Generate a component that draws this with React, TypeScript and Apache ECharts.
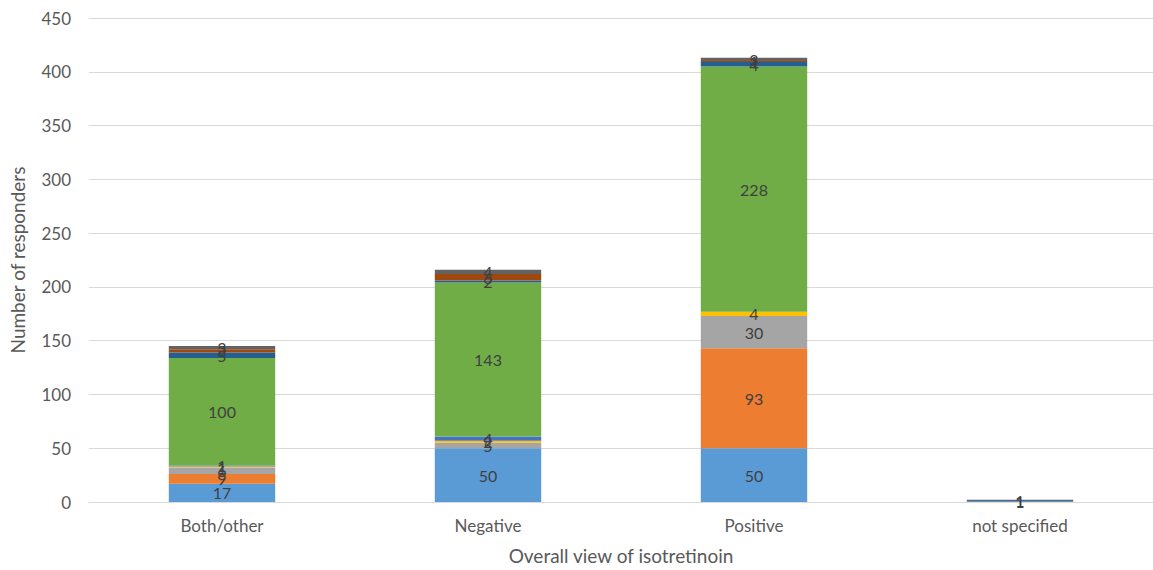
import React, { useEffect, useRef } from "react";
import * as echarts from "echarts";

const categories = ["Both/other", "Negative", "Positive", "not specified"];
const seriesNames = ["Series 1", "Series 2", "Series 3", "Series 4", "Series 5", "Series 6", "Series 7", "Series 8", "Series 9"];
const s1 = [17, 50, 50, 1];
const s2 = [9, 0, 93, 0];
const s3 = [6, 5, 30, 0];
const s4 = [1, 2, 4, 0];
const s5 = [1, 4, 0, 0];
const s6 = [100, 143, 228, 0];
const s7 = [5, 2, 4, 0];
const s8 = [3, 6, 1, 0];
const s9 = [3, 4, 3, 1];
const seriesValues = [s1, s2, s3, s4, s5, s6, s7, s8, s9];
const colors = ["#5B9BD5", "#ED7D31", "#A5A5A5", "#FFC000", "#4472C4", "#70AD47", "#255E91", "#9E480E", "#636363"];
const yTicks = { min: 0, max: 450, interval: 50 };

const FONT = "Lato";

export default function App() {
  const ref = useRef<HTMLDivElement>(null);
  useEffect(() => {
    document.body.style.margin = "0";
    document.body.style.overflow = "hidden";
    const chart = echarts.init(ref.current!, null, { renderer: "svg" });
    chart.setOption({
      animation: false,
      backgroundColor: "#ffffff",
      textStyle: { fontFamily: FONT },
      grid: { left: 81, right: -4, top: 18, bottom: 67 },
      xAxis: {
        type: "category",
        data: categories,
        name: "Overall view of isotretinoin",
        nameLocation: "middle",
        nameGap: 44,
        nameTextStyle: { fontFamily: FONT, fontSize: 19, color: "#595959" },
        axisLine: { lineStyle: { color: "#D9D9D9", width: 1 } },
        axisTick: { show: false },
        axisLabel: { fontFamily: FONT, fontSize: 17, color: "#595959", margin: 15 },
      },
      yAxis: {
        type: "value",
        min: yTicks.min,
        max: yTicks.max,
        interval: yTicks.interval,
        name: "Number of responders",
        nameLocation: "middle",
        nameGap: 62,
        nameRotate: 90,
        nameTextStyle: { fontFamily: FONT, fontSize: 19, color: "#595959" },
        axisLine: { show: false },
        axisTick: { show: false },
        axisLabel: { fontFamily: FONT, fontSize: 17, color: "#595959", margin: 18 },
        splitLine: { lineStyle: { color: "#D9D9D9", width: 1 } },
      },
      series: seriesValues.map((vals, i) => ({
        name: seriesNames[i],
        type: "bar",
        stack: "total",
        barWidth: "40%",
        data: vals,
        itemStyle: { color: colors[i] },
        label: {
          show: true,
          position: "inside",
          fontFamily: FONT,
          fontSize: 16,
          color: "#404040",
          formatter: (p: any) => (p.value ? String(p.value) : ""),
        },
        labelLayout: { hideOverlap: false },
      })),
    });
    return () => chart.dispose();
  }, []);
  return <div ref={ref} style={{ width: 1153, height: 570 }} />;
}
